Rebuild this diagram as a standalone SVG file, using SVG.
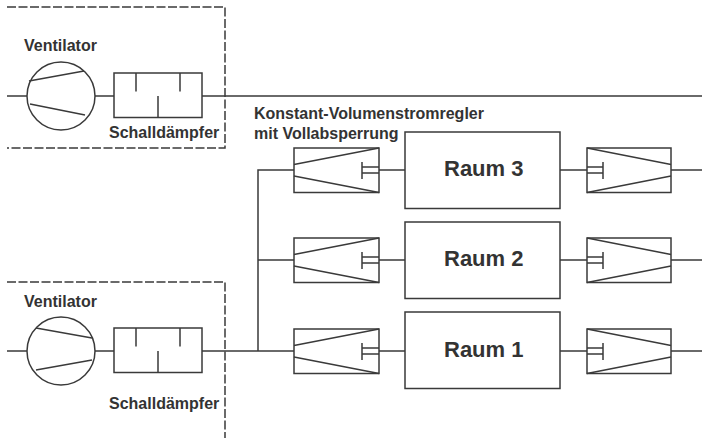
<svg xmlns="http://www.w3.org/2000/svg" xmlns:xlink="http://www.w3.org/1999/xlink" width="702" height="438" viewBox="0 0 702 438">
<style>
.l{fill:none;stroke:#3a3a3a;stroke-width:1.5}
.d{fill:none;stroke:#3a3a3a;stroke-width:1.5;stroke-dasharray:9 2.5}
text{font-family:"Liberation Sans",Arial,sans-serif;font-weight:bold;fill:#333}
.s{font-size:16px}
.r{font-size:22px}
</style>
<defs>
<g id="sil"><rect class="l" x="114" y="0" width="88" height="44.500"/><path class="l" d="M136 0V18.500M158 23V44.500M180 0V18.500"/></g>
<g id="regL"><rect class="l" x="294" y="-22" width="85" height="44.500"/><path class="l" d="M294-5.500 379-22M294 6 379 22.500M362-8V9M362-3H379M362 3H379"/></g>
<g id="regR"><rect class="l" x="587" y="-22" width="84" height="44.500"/><path class="l" d="M587-22 671-5.500M587 22.500 671 6M603-8V9M587-3H603M587 3H603"/></g>
</defs>
<g id="connectors">
<path class="l" d="M7 96H27M95 96H114M202 96H702"/>
<path class="l" d="M7 351H27M95 351H114M202 351H294M258 351V170H294M258 260H294"/>
<path class="l" d="M379 170H405M379 260H405M379 351H405M560 170H587M560 260H587M560 351H587M671 170H702M671 260H702M671 351H702"/>
</g>
<g id="boundary-top"><path class="d" d="M7 7H225V148H7"/></g>
<g id="boundary-bottom"><path class="d" d="M7 282H225V438"/></g>
<g id="ventilator-top"><circle class="l" cx="61" cy="96" r="34"/><path class="l" d="M29 81 84 71M30 104 85 115"/><text class="s" x="24" y="51">Ventilator</text></g>
<g id="schalldaempfer-top"><use xlink:href="#sil" href="#sil" y="73"/><text class="s" x="109" y="138">Schalldämpfer</text></g>
<g id="ventilator-bottom"><circle class="l" cx="61" cy="351" r="34"/><path class="l" d="M36 328 92 338M36 370 92 360"/><text class="s" x="24" y="307">Ventilator</text></g>
<g id="schalldaempfer-bottom"><use xlink:href="#sil" href="#sil" y="328"/><text class="s" x="109" y="409">Schalldämpfer</text></g>
<g id="regler-label"><text class="s" x="254" y="119">Konstant-Volumenstromregler</text><text class="s" x="254" y="139">mit Vollabsperrung</text></g>
<g id="regler-3-zu"><use xlink:href="#regL" href="#regL" y="170"/></g>
<g id="regler-2-zu"><use xlink:href="#regL" href="#regL" y="260"/></g>
<g id="regler-1-zu"><use xlink:href="#regL" href="#regL" y="351"/></g>
<g id="raum-3"><rect class="l" x="405" y="132" width="155" height="76.500"/><text class="r" x="444" y="176">Raum 3</text></g>
<g id="raum-2"><rect class="l" x="405" y="222" width="155" height="76.500"/><text class="r" x="444" y="266">Raum 2</text></g>
<g id="raum-1"><rect class="l" x="405" y="312" width="155" height="76.500"/><text class="r" x="444" y="356.500">Raum 1</text></g>
<g id="regler-3-ab"><use xlink:href="#regR" href="#regR" y="170"/></g>
<g id="regler-2-ab"><use xlink:href="#regR" href="#regR" y="260"/></g>
<g id="regler-1-ab"><use xlink:href="#regR" href="#regR" y="351"/></g>
</svg>
